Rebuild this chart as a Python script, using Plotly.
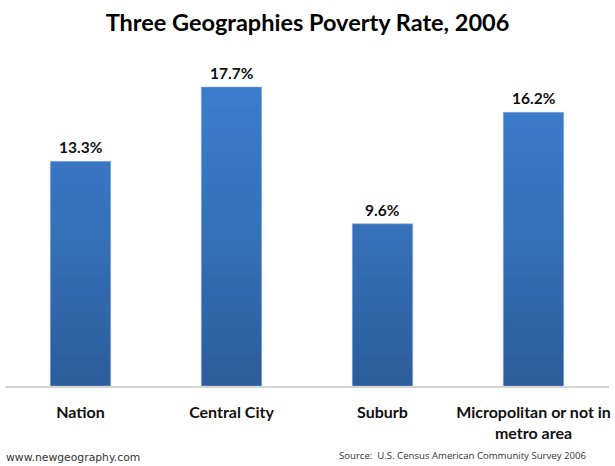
import plotly.graph_objects as go

categories = ["Nation", "Central City", "Suburb", "Micropolitan or not in<br>metro area"]
poverty_rate = [13.3, 17.7, 9.6, 16.2]
value_labels = ["13.3%", "17.7%", "9.6%", "16.2%"]

title_text = "Three Geographies Poverty Rate, 2006"
site_text = "www.newgeography.com"
source_text = "Source:  U.S. Census American Community Survey 2006"

fig = go.Figure()
fig.add_trace(
    go.Bar(
        x=categories,
        y=poverty_rate,
        marker=dict(color="#3368ab", line=dict(color="#8fb0d8", width=0.5)),
        width=0.4,
    )
)

fig.update_layout(
    width=615,
    height=466,
    autosize=False,
    showlegend=False,
    plot_bgcolor="white",
    paper_bgcolor="white",
    margin=dict(l=5, r=6, t=60, b=80),
    title=dict(
        text=title_text,
        x=0.5,
        xanchor="center",
        y=0.951,
        yanchor="middle",
        font=dict(family="Lato", size=23.5, color="black", weight="bold"),
    ),
)
fig.update_xaxes(
    showline=True,
    linecolor="#d4d4d4",
    linewidth=2,
    ticks="",
    ticklabelstandoff=11,
    tickfont=dict(family="Lato", size=16, color="#111111", weight="bold"),
)
fig.update_yaxes(range=[0, 19.3], visible=False)

# value labels sit a bit higher than textposition="outside" puts them
for cat, val, label in zip(categories, poverty_rate, value_labels):
    fig.add_annotation(
        x=cat, y=val, text=label, showarrow=False,
        xanchor="center", yanchor="middle", yshift=14,
        font=dict(family="Lato", size=15.5, color="#111111", weight="bold"),
    )

fig.add_annotation(
    text=site_text, xref="paper", yref="paper", x=-0.002, y=-0.2195,
    xanchor="left", yanchor="middle", showarrow=False,
    font=dict(family="DejaVu Sans", size=10.8, color="#333333"),
)
fig.add_annotation(
    text=source_text, xref="paper", yref="paper", x=0.9655, y=-0.2145,
    xanchor="right", yanchor="middle", showarrow=False,
    font=dict(family="Open Sans", size=9.6, color="#333333"),
)

# vertical gradient on the bars, plotly has no bar gradient option
gradient_js = """
document.body.style.margin = '0';
var svg = document.querySelector('.main-svg');
var ns = 'http://www.w3.org/2000/svg';
var grad = document.createElementNS(ns, 'linearGradient');
grad.setAttribute('id', 'barfade');
grad.setAttribute('gradientUnits', 'userSpaceOnUse');
grad.setAttribute('x1', '0'); grad.setAttribute('x2', '0');
grad.setAttribute('y1', '27'); grad.setAttribute('y2', '326');
[['0', '#3b7dcd'], ['0.5', '#3570b8'], ['1', '#2c5c9b']].forEach(function (s) {
  var stop = document.createElementNS(ns, 'stop');
  stop.setAttribute('offset', s[0]);
  stop.setAttribute('stop-color', s[1]);
  grad.appendChild(stop);
});
svg.querySelector('defs').appendChild(grad);
document.querySelectorAll('.bars .point path').forEach(function (p) {
  p.style.fill = 'url(#barfade)';
});
"""

fig.write_html("out.html", post_script=gradient_js, config={"displayModeBar": False})
